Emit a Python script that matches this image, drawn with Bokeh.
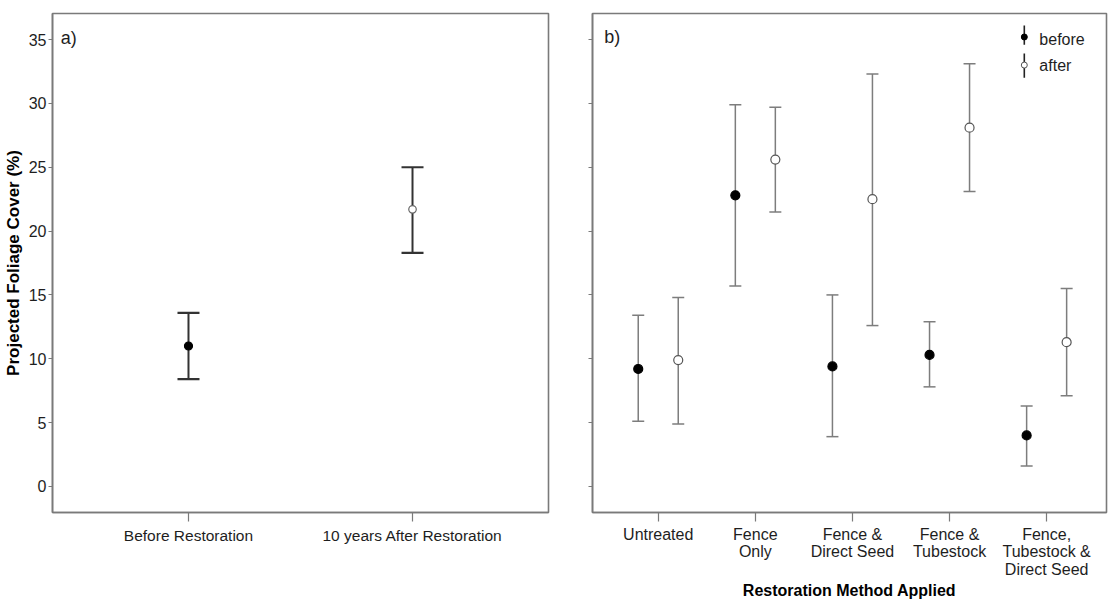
from bokeh.plotting import figure
from bokeh.layouts import row
from bokeh.models import Range1d, FixedTicker, Label, ColumnDataSource, Whisker, TeeHead
from bokeh.embed import file_html
from bokeh.resources import INLINE

# ---------------- data ----------------
# panel a)
a_categories = ["Before Restoration", "10 years After Restoration"]
a_mean = [11.0, 21.7]
a_lower = [8.4, 18.3]
a_upper = [13.6, 25.0]

# panel b)
b_categories = ["Untreated", "Fence\nOnly", "Fence &\nDirect Seed",
                "Fence &\nTubestock", "Fence,\nTubestock &\nDirect Seed"]
before_mean = [9.2, 22.8, 9.4, 10.3, 4.0]
before_lower = [5.1, 15.7, 3.9, 7.8, 1.6]
before_upper = [13.4, 29.9, 15.0, 12.9, 6.3]
after_mean = [9.9, 25.6, 22.5, 28.1, 11.3]
after_lower = [4.9, 21.5, 12.6, 23.1, 7.1]
after_upper = [14.8, 29.7, 32.3, 33.1, 15.5]

y_ticks = [0, 5, 10, 15, 20, 25, 30, 35]
series_names = ["before", "after"]
y_title = "Projected Foliage Cover (%)"
x_title_b = "Restoration Method Applied"

# ---------------- styling ----------------
FONT = "Liberation Sans"
TXT = "#1e1e1e"
FRAME = "#7a7a7a"
Y_RANGE = (-2.04, 37.04)


def base_fig(x_range, frame_width, min_left, min_right):
    p = figure(frame_width=frame_width, frame_height=499,
               x_range=Range1d(*x_range), y_range=Range1d(*Y_RANGE),
               output_backend="svg", toolbar_location=None,
               min_border_left=min_left, min_border_right=min_right,
               min_border_top=13, min_border_bottom=90)
    p.grid.visible = False
    p.background_fill_color = "white"
    p.border_fill_color = "white"
    p.outline_line_color = FRAME
    p.outline_line_width = 1.6
    for ax in (p.xaxis, p.yaxis):
        ax.axis_line_color = FRAME
        ax.axis_line_width = 1.6
        ax.major_tick_line_color = FRAME
        ax.major_tick_line_width = 1.2
        ax.minor_tick_line_color = None
        ax.major_tick_in = 0
        ax.major_label_text_font = FONT
        ax.major_label_text_color = TXT
    p.yaxis.ticker = FixedTicker(ticks=y_ticks)
    p.yaxis.major_tick_out = 4
    p.yaxis.major_label_text_font_size = "16px"
    p.yaxis.major_label_standoff = 2
    p.xaxis.major_tick_out = 9
    p.xaxis.major_label_standoff = 5
    return p


# ---------------- panel a ----------------
a_x = [i + 1 for i in range(len(a_categories))]
a_xr = (0.393, 2.607)
pa = base_fig(a_xr, 496, 51, 22)
pa.xaxis.ticker = FixedTicker(ticks=a_x)
pa.xaxis.major_label_overrides = {x: c for x, c in zip(a_x, a_categories)}
pa.xaxis.major_label_text_font_size = "15.5px"
pa.yaxis.axis_label = y_title
pa.yaxis.axis_label_text_font = FONT
pa.yaxis.axis_label_text_font_style = "bold"
pa.yaxis.axis_label_text_font_size = "17px"
pa.yaxis.axis_label_text_color = "black"
pa.yaxis.axis_label_standoff = 3

src_a = ColumnDataSource(dict(x=a_x, mean=a_mean, lower=a_lower, upper=a_upper,
                              fill=["black", "white"], line=["black", "#666666"],
                              size=[8, 7.5]))
wa = Whisker(base="x", upper="upper", lower="lower", source=src_a, dimension="height",
             line_color="#333333", line_width=2,
             upper_head=TeeHead(size=22, line_color="#333333", line_width=2.2),
             lower_head=TeeHead(size=22, line_color="#333333", line_width=2.2))
pa.add_layout(wa)
pa.scatter("x", "mean", source=src_a, size="size", fill_color="fill",
           line_color="line", line_width=1.2)
pa.add_layout(Label(x=0.43, y=35.1, text="a)", text_font=FONT,
                    text_font_size="18px", text_color=TXT, text_baseline="middle"))

# ---------------- panel b ----------------
b_x = [i + 1 for i in range(len(b_categories))]
dodge = 0.206
b_fw = 514
pb = base_fig((0.323, 0.323 + b_fw / 97.1), b_fw, 22, 2)
pb.xaxis.ticker = FixedTicker(ticks=b_x)
pb.xaxis.major_label_overrides = {x: c for x, c in zip(b_x, b_categories)}
pb.xaxis.major_label_text_font_size = "16px"
pb.xaxis.major_label_text_line_height = 1.03
pb.xaxis.major_label_standoff = 4
pb.xaxis.axis_label = x_title_b
pb.xaxis.axis_label_text_font = FONT
pb.xaxis.axis_label_text_font_style = "bold"
pb.xaxis.axis_label_text_font_size = "16px"
pb.xaxis.axis_label_text_color = "black"
pb.xaxis.axis_label_standoff = 1
pb.yaxis.major_tick_out = 4
pb.yaxis.major_label_overrides = {t: "" for t in y_ticks}
pb.yaxis.major_label_standoff = 0

BAR = "#7d7d7d"
for name, means, lows, ups, off, fill in [
        ("before", before_mean, before_lower, before_upper, -dodge, "black"),
        ("after", after_mean, after_lower, after_upper, dodge, "white")]:
    src = ColumnDataSource(dict(x=[x + off for x in b_x], mean=means, lower=lows, upper=ups))
    w = Whisker(base="x", upper="upper", lower="lower", source=src, dimension="height",
                line_color=BAR, line_width=1.5,
                upper_head=TeeHead(size=12, line_color=BAR, line_width=1.5),
                lower_head=TeeHead(size=12, line_color=BAR, line_width=1.5))
    pb.add_layout(w)
    pb.scatter("x", "mean", source=src, size=9, fill_color=fill,
               line_color="black" if fill == "black" else "#555555", line_width=1.2)

pb.add_layout(Label(x=0.445, y=35.2, text="b)", text_font=FONT,
                    text_font_size="18px", text_color=TXT, text_baseline="middle"))

# legend (drawn by hand: vertical bar with point)
leg_x = 4.77
leg_text_x = 4.925
leg_rows = [(36.1, 34.6, 35.2, 35.0, "black", "black"),
            (33.9, 32.0, 33.0, 32.95, "white", "#555555")]
for (top, bot, mid, ty, fill, lc), name in zip(leg_rows, series_names):
    pb.segment(x0=[leg_x], y0=[top], x1=[leg_x], y1=[bot], line_color="#222222", line_width=1.6)
    pb.scatter(x=[leg_x], y=[mid], size=6, fill_color=fill, line_color=lc, line_width=1)
    pb.add_layout(Label(x=leg_text_x, y=ty, text=name, text_font=FONT,
                        text_font_size="16px", text_color=TXT, text_baseline="middle"))

layout = row(pa, pb, spacing=0)
open("out.html", "w").write(file_html(layout, INLINE))
